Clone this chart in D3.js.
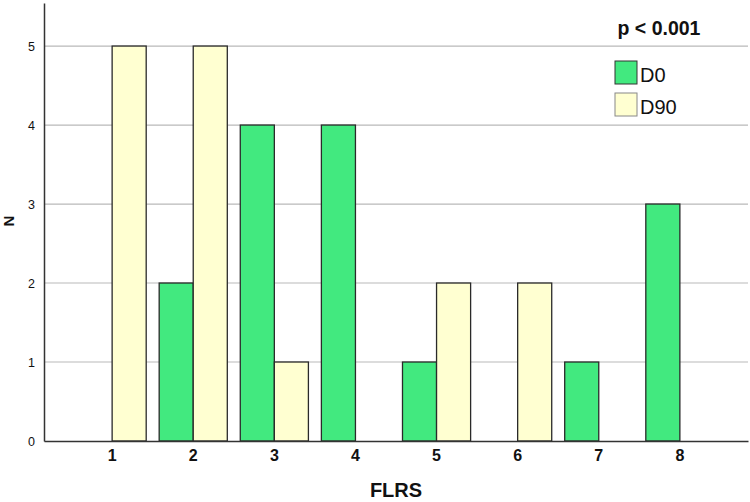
<!DOCTYPE html>
<html>
<head>
<meta charset="utf-8">
<script src="https://cdn.jsdelivr.net/npm/d3@7"></script>
<style>
  body { margin: 0; background: #fff; }
  text { font-family: Arial, "Liberation Sans", sans-serif; }
</style>
</head>
<body>
<svg id="chart"></svg>
<script>
// FLRS categories and counts per time point
const categories = ['1', '2', '3', '4', '5', '6', '7', '8'];
const seriesNames = ['D0', 'D90'];
const d0Values = [0, 2, 4, 4, 1, 0, 1, 3];
const d90Values = [5, 5, 1, 0, 2, 2, 0, 0];
const yTicks = [0, 1, 2, 3, 4, 5];

const width = 750, height = 502;
const margin = { top: 3, right: 2, bottom: 61, left: 44 };
const colors = { D0: '#42e97f', D90: '#ffffd1' };

const svg = d3.select('#chart')
  .attr('width', width)
  .attr('height', height);

const xScale = d3.scaleBand()
  .domain(categories)
  .range([margin.left, width - margin.right])
  .paddingInner(0.16)
  .paddingOuter(0.42);

const xSub = d3.scaleBand()
  .domain(seriesNames)
  .range([0, xScale.bandwidth()]);

const yScale = d3.scaleLinear()
  .domain([0, 5.545])
  .range([height - margin.bottom, margin.top]);

// gridlines
svg.append('g')
  .selectAll('line')
  .data(yTicks.filter(d => d > 0))
  .join('line')
  .attr('x1', margin.left)
  .attr('x2', width - margin.right)
  .attr('y1', d => yScale(d))
  .attr('y2', d => yScale(d))
  .attr('stroke', '#b9b9b9')
  .attr('stroke-width', 1.2);

// bars
const rows = categories.map((c, i) => ({ cat: c, D0: d0Values[i], D90: d90Values[i] }));

svg.append('g')
  .selectAll('g')
  .data(rows)
  .join('g')
  .attr('transform', d => `translate(${xScale(d.cat)},0)`)
  .selectAll('rect')
  .data(d => seriesNames.map(s => ({ key: s, value: d[s] })).filter(d => d.value > 0))
  .join('rect')
  .attr('x', d => xSub(d.key))
  .attr('width', xSub.bandwidth())
  .attr('y', d => yScale(d.value))
  .attr('height', d => yScale(0) - yScale(d.value))
  .attr('fill', d => colors[d.key])
  .attr('stroke', '#2a2a2a')
  .attr('stroke-width', 1.3);

// axes
const xAxis = d3.axisBottom(xScale).tickSize(0).tickPadding(9);
const yAxis = d3.axisLeft(yScale)
  .tickValues(yTicks)
  .tickSize(0)
  .tickPadding(9)
  .tickFormat(d3.format('d'));

const xAxisG = svg.append('g')
  .attr('transform', `translate(0,${yScale(0)})`)
  .call(xAxis);
xAxisG.select('.domain').attr('stroke', '#333').attr('stroke-width', 1.5);
xAxisG.selectAll('text')
  .style('font-size', '16px')
  .style('font-weight', 'bold')
  .attr('fill', '#111');

const yAxisG = svg.append('g')
  .attr('transform', `translate(${margin.left},0)`)
  .call(yAxis);
yAxisG.select('.domain').attr('stroke', '#333').attr('stroke-width', 1.5);
yAxisG.selectAll('text')
  .style('font-size', '12.5px')
  .attr('fill', '#111');

// axis titles
svg.append('text')
  .attr('x', (margin.left + width - margin.right) / 2)
  .attr('y', 497)
  .attr('text-anchor', 'middle')
  .style('font-size', '20px')
  .style('font-weight', 'bold')
  .attr('fill', '#111')
  .text('FLRS');

svg.append('text')
  .attr('transform', 'translate(14,221) rotate(-90)')
  .attr('text-anchor', 'middle')
  .style('font-size', '15px')
  .style('font-weight', 'bold')
  .attr('fill', '#111')
  .text('N');

// p-value annotation
svg.append('text')
  .attr('x', 659)
  .attr('y', 35)
  .attr('text-anchor', 'middle')
  .style('font-size', '19.5px')
  .style('font-weight', 'bold')
  .attr('fill', '#111')
  .text('p < 0.001');

// legend
const legend = svg.append('g')
  .attr('transform', 'translate(615,61)');

legend.selectAll('rect')
  .data(seriesNames)
  .join('rect')
  .attr('x', 0)
  .attr('y', (d, i) => i * 32)
  .attr('width', 22)
  .attr('height', 23)
  .attr('fill', d => colors[d])
  .attr('stroke', d => d === 'D0' ? '#333' : '#888')
  .attr('stroke-width', 1);

legend.selectAll('text')
  .data(seriesNames)
  .join('text')
  .attr('x', 25)
  .attr('y', (d, i) => i * 32 + 21)
  .style('font-size', '20px')
  .attr('fill', '#111')
  .text(d => d);
</script>
</body>
</html>
